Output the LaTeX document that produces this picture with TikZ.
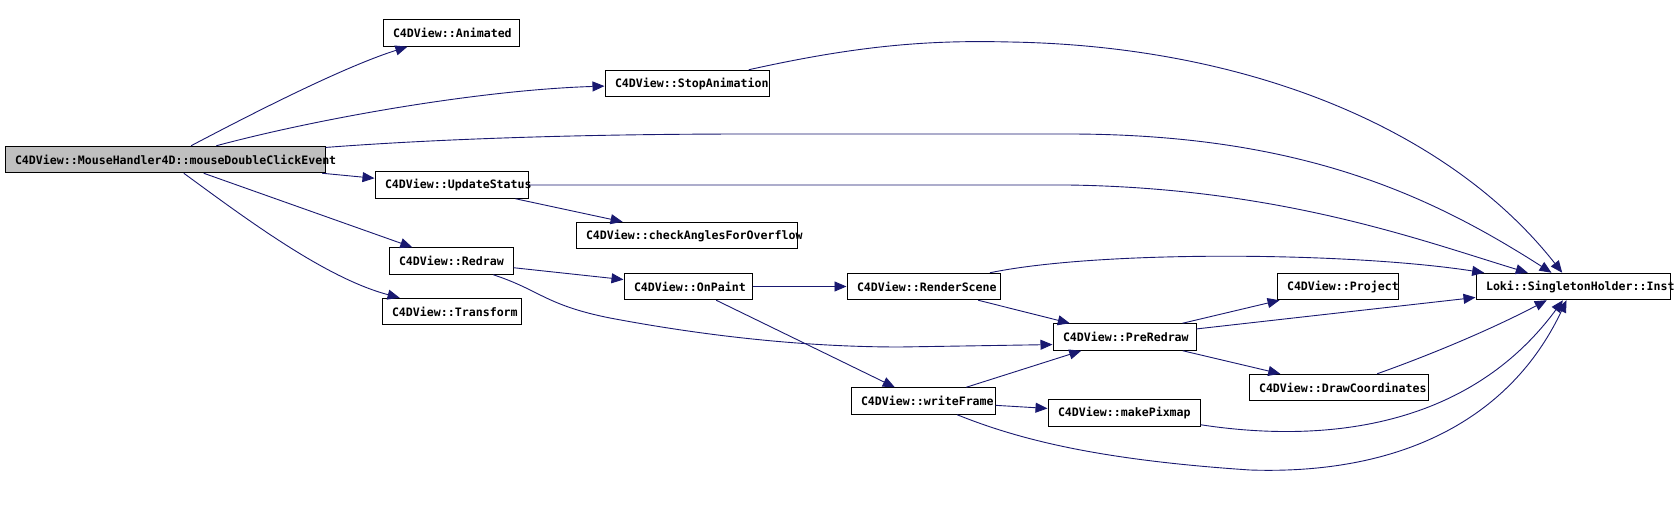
\documentclass[tikz,border=0pt]{standalone}
\usepackage{fontspec}
\usepackage{xcolor}
\usetikzlibrary{arrows.meta}
\newfontfamily\fnfont{DejaVu Sans Mono}[HyphenChar=None]
\definecolor{callblue}{RGB}{25,25,112}

\begin{document}
\begin{tikzpicture}[x=1pt,y=-1pt,
  fn/.style={draw=black,line width=1pt,minimum height=26.5pt,inner xsep=10pt,inner ysep=0pt,
    text width=#1,align=left,font=\fnfont\bfseries\fontsize{11.6}{13}\selectfont},
  call/.style={draw=callblue,line width=0.9pt,-{Triangle[length=12pt,width=10pt]}}]
\fill[white] (0,0) rectangle (1675,513);
% caller
\node[fn=300pt,fill=black!25] (main) at (165,159.5) {C4DView::MouseHandler4D::mouseDoubleClickEvent};
% callees
\foreach \nm/\cx/\cy/\w/\txt in {
  animated/451/33/136/C4DView::Animated,
  stopanim/687/83.5/164/C4DView::StopAnimation,
  update/451.5/185/153/C4DView::UpdateStatus,
  check/686.5/235.5/221/C4DView::checkAnglesForOverflow,
  redraw/451/261/124/C4DView::Redraw,
  transform/451.5/311.5/139/C4DView::Transform,
  onpaint/688/286.5/128/C4DView::OnPaint,
  render/923.5/286.5/153/C4DView::RenderScene,
  writeframe/923/401/144/C4DView::writeFrame,
  preredraw/1124.5/337/143/C4DView::PreRedraw,
  pixmap/1124/413/152/C4DView::makePixmap,
  project/1337.5/286.5/121/C4DView::Project,
  drawcoord/1338.5/387.5/179/C4DView::DrawCoordinates,
  inst/1573/286.5/194/Loki::SingletonHolder::Inst
}{
  \pgfmathsetmacro\tw{\w-20}
  \node[fn=\tw pt] (\nm) at (\cx,\cy) {\txt};
}
% calls from the caller
\draw[call] (main) .. controls (240,120) and (340,68) .. (animated);
\draw[call] (main) .. controls (320,118) and (480,90) .. (stopanim);
\draw[call] (main) .. controls (450,138) and (600,134) .. (750,134) -- (1068,134)
  .. controls (1300,134) and (1430,195) .. (inst);
\draw[call] (main.-5) -- (update.175);
\draw[call] (main) -- (redraw);
\draw[call] (main) .. controls (245,218) and (325,278) .. (transform);
% second level
\draw[call] (stopanim) .. controls (860,45) and (930,40) .. (1010,42)
  .. controls (1250,46) and (1450,130) .. (inst);
\draw[call] (update) -- (1068,185) .. controls (1280,188) and (1420,240) .. (inst);
\draw[call] (update) -- (check);
\draw[call] (redraw) -- (onpaint);
\draw[call] (redraw) .. controls (540,290) and (545,305) .. (610,318)
  .. controls (700,335) and (800,347) .. (900,347) -- (preredraw.186);
\draw[call] (onpaint) -- (render);
\draw[call] (onpaint) -- (writeframe);
\draw[call] (render) .. controls (1100,250) and (1350,252) .. (inst);
\draw[call] (render) -- (preredraw);
\draw[call] (writeframe) -- (preredraw);
\draw[call] (writeframe) -- (pixmap);
\draw[call] (writeframe) .. controls (1020,440) and (1100,460) .. (1250,470)
  .. controls (1400,475) and (1510,420) .. (inst);
\draw[call] (preredraw) -- (project);
\draw[call] (preredraw) -- (inst);
\draw[call] (preredraw) -- (drawcoord);
\draw[call] (drawcoord) .. controls (1430,355) and (1490,330) .. (inst);
\draw[call] (pixmap) .. controls (1300,440) and (1460,440) .. (inst);
\end{tikzpicture}
\end{document}
